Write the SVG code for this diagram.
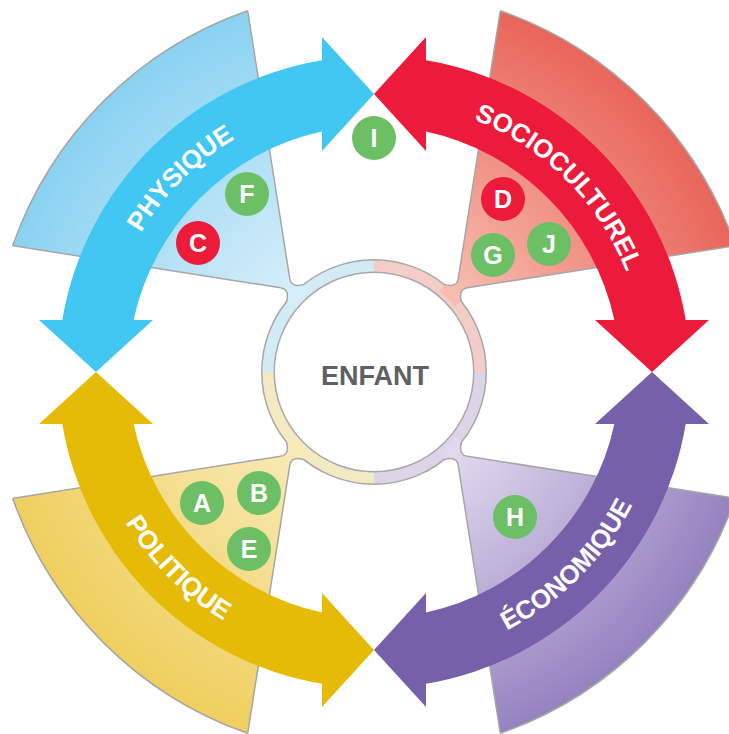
<svg xmlns="http://www.w3.org/2000/svg" width="729" height="734" viewBox="0 0 729 734">
<defs>
  <radialGradient id="gBlue" gradientUnits="userSpaceOnUse" cx="374" cy="372" r="382">
    <stop offset="0.3" stop-color="#d6eef9"/><stop offset="1" stop-color="#8ad2f1"/>
  </radialGradient>
  <radialGradient id="gRed" gradientUnits="userSpaceOnUse" cx="374" cy="372" r="382">
    <stop offset="0.3" stop-color="#f7bcae"/><stop offset="1" stop-color="#e9655a"/>
  </radialGradient>
  <radialGradient id="gYellow" gradientUnits="userSpaceOnUse" cx="374" cy="372" r="382">
    <stop offset="0.3" stop-color="#f8eab6"/><stop offset="1" stop-color="#efcf5e"/>
  </radialGradient>
  <radialGradient id="gPurple" gradientUnits="userSpaceOnUse" cx="374" cy="372" r="382">
    <stop offset="0.3" stop-color="#e0d9ed"/><stop offset="1" stop-color="#9583c0"/>
  </radialGradient>
  <path id="sectorFill" d="M293.18,306.55 L287.35,301.83 Q290.56,288.56 280.68,287.01 L13.7,245.1 A382,382 0 0 1 247.1,11.7 L289.01,278.68 Q290.56,288.56 303.83,285.35 L308.55,291.18 A104,104 0 0 0 293.18,306.55 Z"/>
  <path id="sectorLine" d="M287.35,301.83 Q290.56,288.56 280.68,287.01 L13.7,245.1 A382,382 0 0 1 247.1,11.7 L289.01,278.68 Q290.56,288.56 303.83,285.35"/>
  <path id="band" d="M322,60.3 L322,37 L374,94 L322,151 L322,131.6 A246,246 0 0 0 133.6,320 L153,320 L96,372 L39,320 L62.3,320 A316,316 0 0 1 322,60.3 Z"/>
  <path id="tpPhys" d="M111.75,442.27 A271.5,271.5 0 0 1 444.27,109.75"/>
  <path id="tpSocio" d="M303.73,109.75 A271.5,271.5 0 0 1 636.25,442.27"/>
  <path id="tpPoli" d="M93.4,296.81 A290.5,290.5 0 0 0 449.19,652.6"/>
  <path id="tpEco" d="M298.81,652.6 A290.5,290.5 0 0 0 654.6,296.81"/>
</defs>
<style>
  .sline{fill:none;stroke:#a6a6a6;stroke-width:3;stroke-linejoin:round}
  .lbl{font-family:"Liberation Sans",Arial,sans-serif;font-weight:bold;font-size:26px;fill:#ffffff}
  .badge text{font-family:"Liberation Sans",Arial,sans-serif;font-weight:bold;font-size:25px;fill:#ffffff;text-anchor:middle}
  .green{fill:#6cbf65}
  .red{fill:#ed1b3a}
  .ringq{fill:none;stroke-width:11}
</style>
<rect width="729" height="734" fill="#ffffff"/>

<g id="enfant">
  <circle cx="374" cy="372" r="106" fill="#ffffff" stroke="#a8a8a8" stroke-width="14"/>
  <path class="ringq" stroke="#d3ebf5" d="M268,372 A106,106 0 0 1 374,266"/>
  <path class="ringq" stroke="#f3cec8" d="M374,266 A106,106 0 0 1 480,372"/>
  <path class="ringq" stroke="#dcd5e8" d="M480,372 A106,106 0 0 1 374,478"/>
  <path class="ringq" stroke="#f1eac3" d="M374,478 A106,106 0 0 1 268,372"/>
  <text x="375" y="385" text-anchor="middle" font-family="Liberation Sans, Arial, sans-serif" font-weight="bold" font-size="27" fill="#5f6062">ENFANT</text>
</g>

<g id="sector-physique">
  <use href="#sectorLine" class="sline"/>
  <use href="#sectorFill" fill="url(#gBlue)"/>
</g>
<g id="sector-socioculturel" transform="matrix(-1 0 0 1 748 0)">
  <use href="#sectorLine" class="sline"/>
  <use href="#sectorFill" fill="url(#gRed)"/>
</g>
<g id="sector-politique" transform="matrix(1 0 0 -1 0 744)">
  <use href="#sectorLine" class="sline"/>
  <use href="#sectorFill" fill="url(#gYellow)"/>
</g>
<g id="sector-economique" transform="rotate(180 374 372)">
  <use href="#sectorLine" class="sline"/>
  <use href="#sectorFill" fill="url(#gPurple)"/>
</g>

<g id="connectors">
  <use id="arrow-physique" href="#band" fill="#42c7f2"/>
  <use id="arrow-socioculturel" href="#band" fill="#ed1b3b" transform="matrix(-1 0 0 1 748 0)"/>
  <use id="arrow-politique" href="#band" fill="#e5bb07" transform="matrix(1 0 0 -1 0 744)"/>
  <use id="arrow-economique" href="#band" fill="#7760aa" transform="rotate(180 374 372)"/>
  <text class="lbl"><textPath href="#tpPhys" startOffset="50%" text-anchor="middle">PHYSIQUE</textPath></text>
  <text class="lbl"><textPath href="#tpSocio" startOffset="50%" text-anchor="middle">SOCIOCULTUREL</textPath></text>
  <text class="lbl"><textPath href="#tpPoli" startOffset="50%" text-anchor="middle">POLITIQUE</textPath></text>
  <text class="lbl"><textPath href="#tpEco" startOffset="50%" text-anchor="middle">ÉCONOMIQUE</textPath></text>
</g>

<g id="badge-I" class="badge"><circle class="green" cx="374" cy="138" r="22"/><text x="374" y="147">I</text></g>
<g id="badge-F" class="badge"><circle class="green" cx="247" cy="194" r="22"/><text x="247" y="203">F</text></g>
<g id="badge-C" class="badge"><circle class="red" cx="198" cy="243" r="22"/><text x="198" y="252">C</text></g>
<g id="badge-D" class="badge"><circle class="red" cx="503" cy="199" r="22"/><text x="503" y="208">D</text></g>
<g id="badge-G" class="badge"><circle class="green" cx="493" cy="255" r="22"/><text x="493" y="264">G</text></g>
<g id="badge-J" class="badge"><circle class="green" cx="549" cy="244" r="22"/><text x="549" y="253">J</text></g>
<g id="badge-A" class="badge"><circle class="green" cx="202" cy="503" r="22"/><text x="202" y="512">A</text></g>
<g id="badge-B" class="badge"><circle class="green" cx="259" cy="493" r="22"/><text x="259" y="502">B</text></g>
<g id="badge-E" class="badge"><circle class="green" cx="249" cy="549" r="22"/><text x="249" y="558">E</text></g>
<g id="badge-H" class="badge"><circle class="green" cx="515" cy="517" r="22"/><text x="515" y="526">H</text></g>
</svg>
